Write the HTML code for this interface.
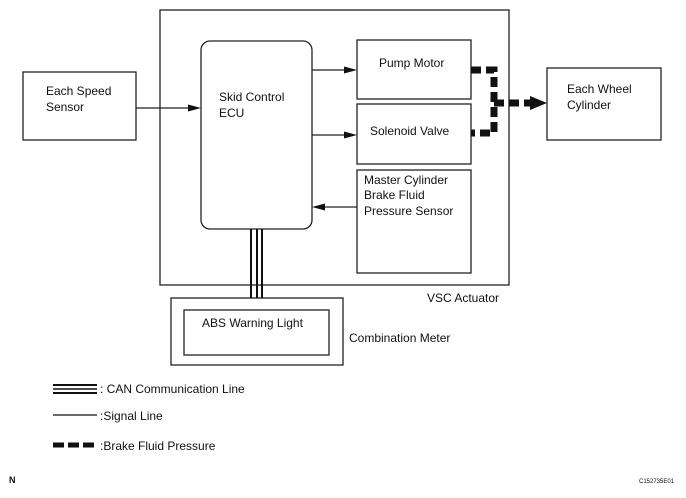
<!DOCTYPE html>
<html><head><style>body{margin:0;background:#fff}</style></head><body>
<svg width="686" height="493" xmlns="http://www.w3.org/2000/svg" font-family="Liberation Sans, sans-serif" font-size="12" fill="#111">
<g fill="none" stroke="#222" stroke-width="1.3">
<rect x="160" y="10" width="349" height="275"/>
<rect x="201" y="41" width="111" height="188" rx="9"/>
<rect x="357" y="40" width="114" height="59"/>
<rect x="357" y="104" width="114" height="60"/>
<rect x="357" y="170" width="114" height="103"/>
<rect x="23" y="72" width="113" height="68"/>
<rect x="547" y="68" width="114" height="72"/>
<rect x="171" y="298" width="172" height="67"/>
<rect x="184" y="310" width="145" height="45"/>
<line x1="136" y1="108" x2="192" y2="108"/>
<line x1="312" y1="70" x2="348" y2="70"/>
<line x1="312" y1="135" x2="348" y2="135"/>
<line x1="357" y1="207" x2="322" y2="207"/>
</g>
<g fill="#111">
<polygon points="201,108 188,104.5 188,111.5"/>
<polygon points="357,70 344,66.5 344,73.5"/>
<polygon points="357,135 344,131.5 344,138.5"/>
<polygon points="312,207 325,203.5 325,210.5"/>
<polygon points="547,103 530,96 530,110"/>
</g>
<g stroke="#111" stroke-width="7" stroke-dasharray="10,5" fill="none">
<polyline points="471,70 494,70 494,133 471,133"/>
<line x1="494" y1="103" x2="532" y2="103"/>
</g>
<g stroke="#111" stroke-width="2">
<line x1="251" y1="229" x2="251" y2="298"/>
<line x1="257" y1="229" x2="257" y2="298"/>
<line x1="262" y1="229" x2="262" y2="298"/>
</g>
<text x="46" y="95">Each Speed</text>
<text x="46" y="111">Sensor</text>
<text x="219" y="101">Skid Control</text>
<text x="219" y="117">ECU</text>
<text x="379" y="67">Pump Motor</text>
<text x="370" y="135">Solenoid Valve</text>
<text x="364" y="184">Master Cylinder</text>
<text x="364" y="199">Brake Fluid</text>
<text x="364" y="215">Pressure Sensor</text>
<text x="567" y="93">Each Wheel</text>
<text x="567" y="109">Cylinder</text>
<text x="427" y="302">VSC Actuator</text>
<text x="202" y="327">ABS Warning Light</text>
<text x="349" y="342">Combination Meter</text>
<g stroke="#111"><line x1="53" y1="385" x2="97" y2="385" stroke-width="2"/><line x1="53" y1="389" x2="97" y2="389" stroke-width="1.5"/><line x1="53" y1="393" x2="97" y2="393" stroke-width="2"/>
<line x1="53" y1="415" x2="97" y2="415" stroke-width="1.2"/>
<line x1="53" y1="445" x2="97" y2="445" stroke-width="5" stroke-dasharray="11,4"/></g>
<text x="100" y="393">: CAN Communication Line</text>
<text x="100" y="420">:Signal Line</text>
<text x="100" y="450">:Brake Fluid Pressure</text>
<text x="9" y="483" font-size="9" font-weight="bold">N</text>
<text x="639" y="483" font-size="6">C152735E01</text>
</svg>
</body></html>
